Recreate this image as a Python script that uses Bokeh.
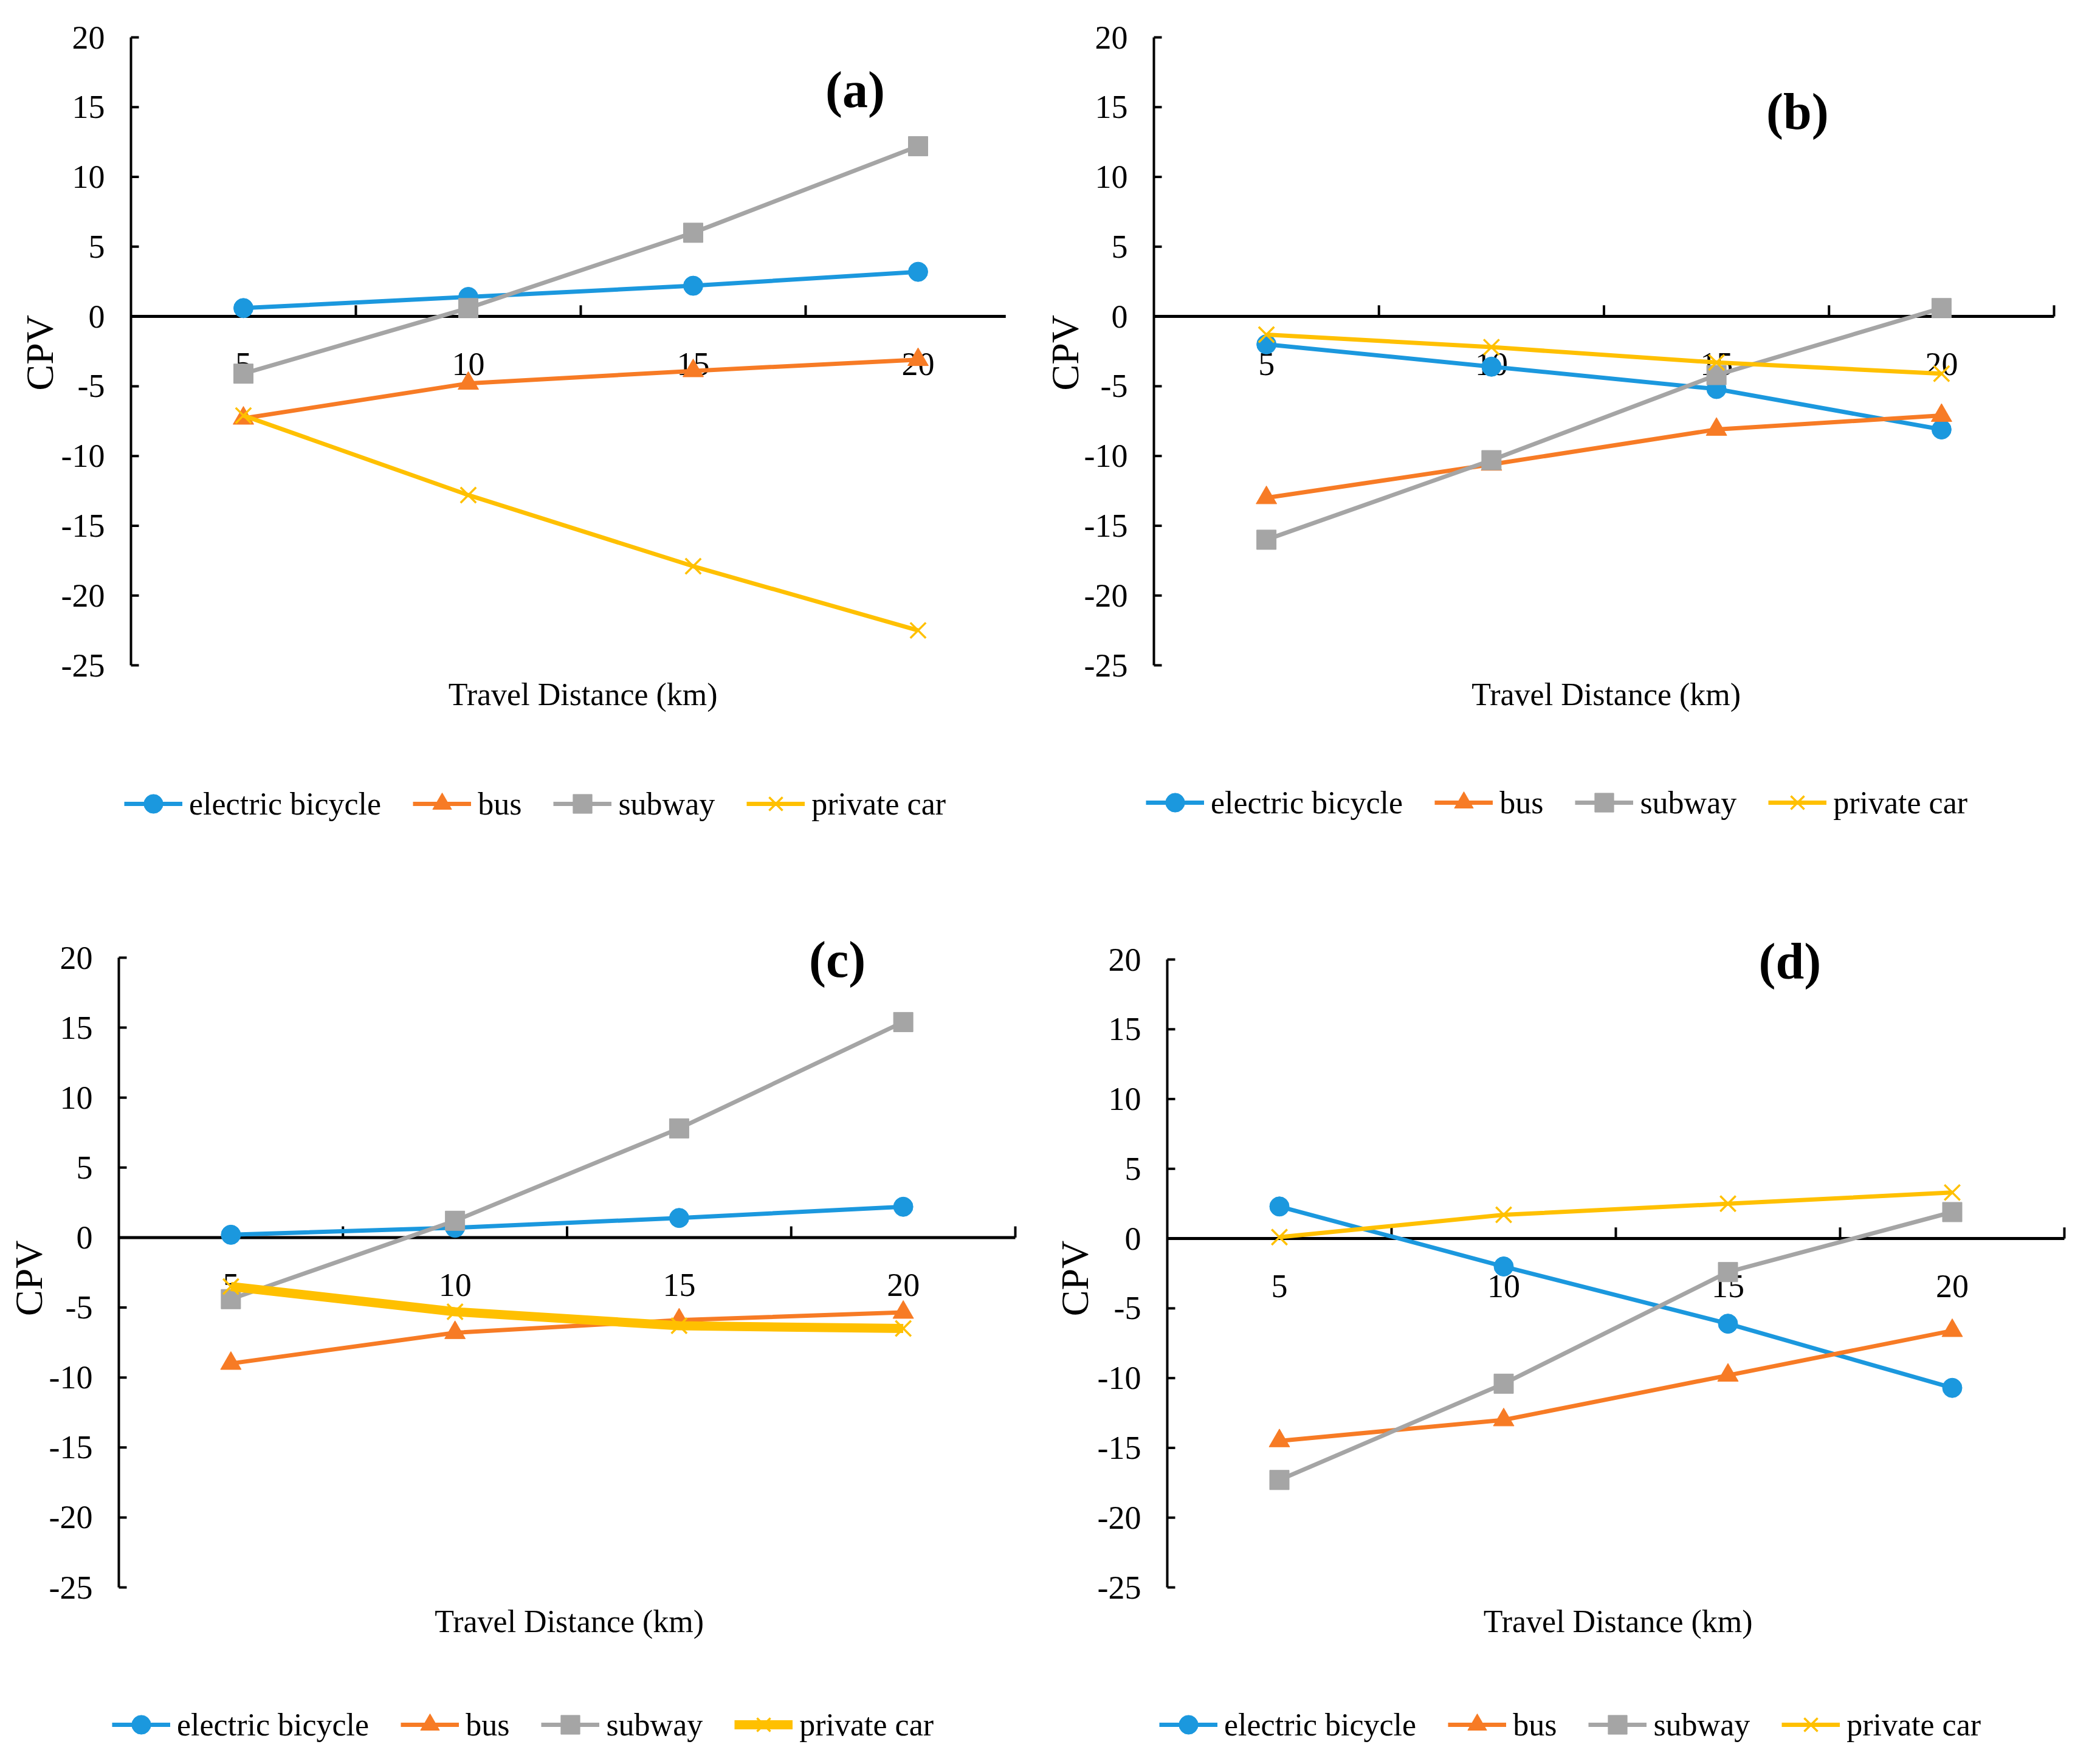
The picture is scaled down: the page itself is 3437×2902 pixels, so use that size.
import math
from bokeh.plotting import figure
from bokeh.models import Range1d, Legend, LegendItem, ColumnDataSource
from bokeh.layouts import column, row
from bokeh.embed import file_html
from bokeh.resources import INLINE
from bokeh.core.properties import value

# ---------------- data ----------------
distance = [5, 10, 15, 20]
x_labels = ["5", "10", "15", "20"]
y_ticks = [-25, -20, -15, -10, -5, 0, 5, 10, 15, 20]
y_labels = ["-25", "-20", "-15", "-10", "-5", "0", "5", "10", "15", "20"]
modes = ["electric bicycle", "bus", "subway", "private car"]
panel_tags = ["(a)", "(b)", "(c)", "(d)"]
x_title = "Travel Distance (km)"
y_title = "CPV"

a_electric_bicycle = [0.6, 1.4, 2.2, 3.2]
a_bus = [-7.3, -4.8, -3.9, -3.1]
a_subway = [-4.1, 0.6, 6.0, 12.2]
a_private_car = [-7.1, -12.8, -17.9, -22.5]

b_electric_bicycle = [-2.0, -3.6, -5.2, -8.1]
b_bus = [-13.0, -10.6, -8.1, -7.1]
b_subway = [-16.0, -10.3, -4.2, 0.6]
b_private_car = [-1.3, -2.2, -3.3, -4.1]

c_electric_bicycle = [0.2, 0.7, 1.4, 2.2]
c_bus = [-9.0, -6.8, -5.9, -5.35]
c_subway = [-4.4, 1.2, 7.8, 15.4]
c_private_car = [-3.5, -5.3, -6.3, -6.5]

d_electric_bicycle = [2.3, -2.0, -6.1, -10.7]
d_bus = [-14.5, -13.0, -9.8, -6.6]
d_subway = [-17.3, -10.4, -2.4, 1.9]
d_private_car = [0.1, 1.7, 2.5, 3.3]

panel_series = [
    [a_electric_bicycle, a_bus, a_subway, a_private_car],
    [b_electric_bicycle, b_bus, b_subway, b_private_car],
    [c_electric_bicycle, c_bus, c_subway, c_private_car],
    [d_electric_bicycle, d_bus, d_subway, d_private_car],
]

# ---------------- styles / layout ----------------
COLORS = ["#1B98DE", "#F77B25", "#A5A5A5", "#FFC000"]
MARKERS = ["circle", "triangle", "square", "x"]
MSIZE = [32, 34, 32, 36]
FONT = "Liberation Serif"
FIG_W, FIG_H = 1710, 1443
AXIS_START = 2.5

# page-pixel geometry of each panel
cfg = [
    dict(fig_left=8, fig_top=8, ax_left=223, ppx=74.0, axis_end=21.95, top20=69, bot25=1102,
         cpv_off=150, cpv_y=-2.6, lx=204, ly=82, tx=18.6, ty=16.25, car_w=7, xty=-27.1),
    dict(fig_left=1718, fig_top=8, ax_left=1906, ppx=74.05, axis_end=22.5, top20=69, bot25=1102,
         cpv_off=146, cpv_y=-2.6, lx=175, ly=84, tx=16.8, ty=14.7, car_w=7, xty=-27.1),
    dict(fig_left=8, fig_top=1451, ax_left=203, ppx=73.75, axis_end=22.5, top20=1583, bot25=2619,
         cpv_off=148, cpv_y=-2.9, lx=184, ly=10, tx=18.53, ty=19.85, car_w=15, xty=-27.45),
    dict(fig_left=1718, fig_top=1451, ax_left=1928, ppx=73.8, axis_end=22.5, top20=1586, bot25=2619,
         cpv_off=152, cpv_y=-2.85, lx=197, ly=10, tx=16.38, ty=19.85, car_w=7, xty=-27.45),
]


def make_panel(idx):
    c = cfg[idx]
    series = panel_series[idx]
    ppu = (c["bot25"] - c["top20"]) / 45.0
    ppx = c["ppx"]
    y_end = 20 + (c["top20"] - c["fig_top"]) / ppu
    y_start = 20 - (c["fig_top"] + FIG_H - c["top20"]) / ppu
    x_start = AXIS_START - (c["ax_left"] - c["fig_left"]) / ppx
    x_end = x_start + FIG_W / ppx

    p = figure(width=FIG_W, height=FIG_H,
               x_range=Range1d(x_start, x_end), y_range=Range1d(y_start, y_end),
               x_axis_type=None, y_axis_type=None, toolbar_location=None,
               output_backend="svg", min_border=0,
               min_border_left=0, min_border_right=0, min_border_top=0, min_border_bottom=0)
    p.outline_line_color = None
    p.grid.grid_line_color = None
    p.background_fill_color = "white"
    p.border_fill_color = "white"

    y_lo, y_hi = min(y_ticks), max(y_ticks)

    # ---- y axis (line, inward ticks, labels, title) ----
    p.segment(x0=[AXIS_START], y0=[y_lo], x1=[AXIS_START], y1=[y_hi],
              line_color="black", line_width=4)
    p.segment(x0=[AXIS_START] * len(y_ticks), y0=y_ticks,
              x1=[AXIS_START + 13 / ppx] * len(y_ticks), y1=y_ticks,
              line_color="black", line_width=4)
    ysrc = ColumnDataSource(dict(y=y_ticks, t=y_labels))
    p.text(x=AXIS_START - 43 / ppx, y="y", text="t", source=ysrc,
           text_font=value(FONT), text_font_size="54px", text_align="right",
           text_baseline="middle", text_color="black")
    p.text(x=[AXIS_START - c["cpv_off"] / ppx], y=[c["cpv_y"]], text=[y_title],
           angle=math.pi / 2, text_font=value(FONT), text_font_size="64px",
           text_align="center", text_baseline="middle", text_color="black")

    # ---- horizontal axis crossing at zero ----
    p.segment(x0=[AXIS_START], y0=[0], x1=[c["axis_end"]], y1=[0],
              line_color="black", line_width=5)
    tick_x = [(distance[i] + distance[i + 1]) / 2 for i in range(len(distance) - 1)]
    tick_x.append(distance[-1] + (distance[1] - distance[0]) / 2)
    tick_x = [t for t in tick_x if t <= c["axis_end"]]
    p.segment(x0=tick_x, y0=0, x1=tick_x, y1=0.8, line_color="black", line_width=4)

    src = ColumnDataSource(dict(x=distance, t=x_labels))
    p.text(x="x", y=-3.4, text="t", source=src, text_font=value(FONT),
           text_font_size="54px", text_align="center", text_baseline="middle",
           text_color="black")

    p.text(x=[12.55], y=[c["xty"]], text=[x_title], text_font=value(FONT),
           text_font_size="52px", text_align="center", text_baseline="middle",
           text_color="black")

    # ---- series ----
    items = []
    for k, name in enumerate(modes):
        lw = c["car_w"] if name == "private car" else 7
        lr = p.line(distance, series[k], line_color=COLORS[k], line_width=lw)
        if MARKERS[k] == "x":
            sr = p.scatter(distance, series[k], marker="x", size=MSIZE[k],
                           line_color=COLORS[k], line_width=3.5)
        else:
            sr = p.scatter(distance, series[k], marker=MARKERS[k], size=MSIZE[k],
                           fill_color=COLORS[k], line_color=COLORS[k])
        items.append(LegendItem(label=name, renderers=[lr, sr]))

    leg = Legend(items=items, orientation="horizontal", location=(c["lx"], c["ly"]),
                 glyph_width=96, glyph_height=78, label_standoff=11, spacing=52,
                 padding=0, margin=0, border_line_color=None, background_fill_alpha=0,
                 label_text_font=FONT, label_text_font_size="52px",
                 label_text_color="black")
    p.add_layout(leg)

    # ---- panel tag ----
    p.text(x=[c["tx"]], y=[c["ty"]], text=[panel_tags[idx]], text_font=value(FONT),
           text_font_style="bold", text_font_size="84px", text_align="center",
           text_baseline="middle", text_color="black")
    return p


pa, pb, pc, pd = [make_panel(i) for i in range(4)]
layout = column(row(pa, pb), row(pc, pd))

open("out.html", "w").write(file_html(layout, INLINE))
